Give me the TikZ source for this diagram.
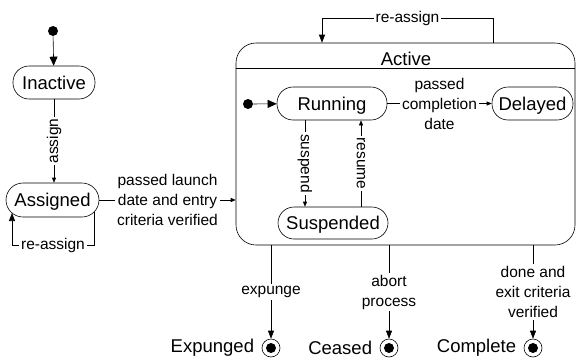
\documentclass[tikz,border=0pt]{standalone}
\usepackage{fontspec}
\setmainfont{Liberation Sans}
\usetikzlibrary{arrows.meta}
\tikzset{
  font={\fontsize{15.5pt}{20pt}\selectfont}}
\newcommand{\statefont}{\fontsize{18.5pt}{20pt}\selectfont}

\begin{document}
\begin{tikzpicture}[x=1pt,y=1pt,line width=0.6pt,
  state/.style={draw,fill=white,rounded corners=16pt,minimum height=33pt,inner sep=0pt,
    text height=13.3pt,text depth=0pt,font=\statefont},
  dot/.style={circle,fill,inner sep=0pt,minimum size=10pt},
  final/.style={circle,draw,inner sep=0pt,minimum size=18pt,
    path picture={\fill (path picture bounding box.center) circle (5pt);}},
  lbl/.style={fill=white,inner sep=2pt,align=center},
  big/.style={-{Triangle[length=9pt,width=8pt]}},
  mid/.style={-{Triangle[length=8pt,width=6pt]}},
  small/.style={-{Triangle[length=5pt,width=4pt]}}]
\useasboundingbox (0,0) rectangle (576,-362);
\node[dot] (init) at (53,-31) {};
\node[state,minimum width=82pt] (inactive) at (54,-82.5) {Inactive};
\node[state,minimum width=93pt,minimum height=34pt,rounded corners=17pt] (assigned) at (52.5,-200) {Assigned};
\node[draw,rounded corners=20pt,minimum width=339pt,minimum height=202pt,inner sep=0pt] (active) at (405.5,-144) {};
\node[font=\statefont] (activetitle) at (406,-58.5) {Active};
\coordinate (sep) at (0,-68);
\draw (active.west |- sep) -- (active.east |- sep);
\node[dot] (subinit) at (248,-104) {};
\node[state,minimum width=110pt] (running) at (332,-103.5) {Running};
\node[state,minimum width=81pt] (delayed) at (532.5,-103.5) {Delayed};
\node[state,minimum width=110pt,minimum height=32pt] (suspended) at (333,-223) {Suspended};
\node[final,label={[font=\statefont,label distance=4pt]left:Expunged}] (expunged) at (271,-348) {};
\node[final,label={[font=\statefont,label distance=4pt]left:Ceased}] (ceased) at (389,-348) {};
\node[final,label={[font=\statefont,label distance=4pt]left:Complete}] (complete) at (533,-348) {};
\draw[big] (init) -- (inactive);
\draw[small] (inactive) -- node[lbl,rotate=90]{assign} (inactive |- assigned.north);
\coordinate (loopr) at (94,-245);
\coordinate (loopl) at (12,-245);
\draw[mid] ([shift={(41.5,-12)}]assigned.center) -- (loopr) -- node[lbl]{re-assign} (loopl)
  -- ([shift={(-40.5,-13)}]assigned.center);
\draw[small] (assigned) -- node[lbl]{passed launch\\date and entry\\criteria verified} (assigned -| active.west);
\coordinate (rar) at (493,-18);
\coordinate (ral) at (322,-18);
\draw[mid] (active.north -| rar) -- (rar) -- node[lbl]{re-assign} (ral) -- (active.north -| ral);
\draw[big] (subinit) -- (running);
\draw[small] (running) -- node[lbl]{passed\\completion\\date} (delayed);
\coordinate (susx) at (305,0);
\coordinate (resx) at (361,0);
\draw[small] (running.south -| susx) -- node[lbl,rotate=-90]{suspend} (suspended.north -| susx);
\draw[small] (suspended.north -| resx) -- node[lbl,rotate=-90]{resume} (running.south -| resx);
\draw[mid] (expunged |- active.south) -- node[lbl]{expunge} (expunged);
\draw[mid] (ceased |- active.south) -- node[lbl]{abort\\process} (ceased);
\draw[mid] (complete |- active.south) -- node[lbl]{done and\\exit criteria\\verified} (complete);
\end{tikzpicture}
\end{document}
